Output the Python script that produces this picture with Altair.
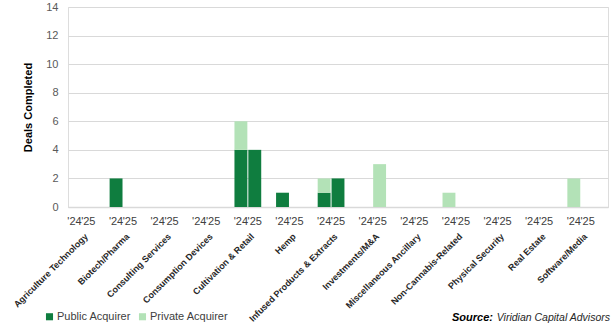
import altair as alt
import pandas as pd

categories = ["Agriculture Technology", "Biotech/Pharma", "Consulting Services",
              "Consumption Devices", "Cultivation & Retail", "Hemp",
              "Infused Products & Extracts", "Investments/M&A",
              "Miscellaneous Ancillary", "Non-Cannabis-Related",
              "Physical Security", "Real Estate", "Software/Media"]
years = ["'24", "'25"]
public_24 = [0, 2, 0, 0, 4, 1, 1, 0, 0, 0, 0, 0, 0]
private_24 = [0, 0, 0, 0, 2, 0, 1, 0, 0, 1, 0, 0, 2]
public_25 = [0, 0, 0, 0, 4, 0, 2, 0, 0, 0, 0, 0, 0]
private_25 = [0, 0, 0, 0, 0, 0, 0, 3, 0, 0, 0, 0, 0]
series = ["Public Acquirer", "Private Acquirer"]
colors = ["#0F7D3F", "#B3E2B7"]
FONT = "Liberation Sans"

rows = []
for i, c in enumerate(categories):
    for yr, pub, priv in [(years[0], public_24, private_24), (years[1], public_25, private_25)]:
        rows.append({"slot": f"{c}|{yr}", "type": series[0], "ord": 0, "value": pub[i]})
        rows.append({"slot": f"{c}|{yr}", "type": series[1], "ord": 1, "value": priv[i]})
df = pd.DataFrame(rows)

domain = []
for c in categories:
    domain += [f"{c}|{years[0]}", f"{c}|{years[1]}", f"{c}|gap"]

xscale = alt.Scale(domain=domain, paddingInner=0.07, paddingOuter=0)

bars = alt.Chart(df).mark_bar().encode(
    x=alt.X("slot:N", scale=xscale, sort=domain, title=None,
            axis=alt.Axis(labelExpr="indexof(datum.value,'|gap')>=0 ? '' : split(datum.value,'|')[1]",
                          labelAngle=0, ticks=False, domainColor="#D9D9D9", domainWidth=1.5,
                          labelFont=FONT, labelFontSize=11, labelColor="#404040",
                          labelPadding=8, labelOverlap=False)),
    y=alt.Y("value:Q", stack="zero", scale=alt.Scale(domain=[0, 14], nice=False),
            axis=alt.Axis(values=list(range(0, 15, 2)), title="Deals Completed",
                          titleFont=FONT, titleFontSize=11, titleFontWeight="bold", titleColor="#000000",
                          titlePadding=12, labelFont=FONT, labelFontSize=11, labelColor="#595959",
                          labelPadding=10, ticks=False, domain=False,
                          gridColor="#D9D9D9", gridWidth=1.2)),
    color=alt.Color("type:N", scale=alt.Scale(domain=series, range=colors),
                    legend=alt.Legend(title=None, orient="none", legendX=-24, legendY=304,
                                      direction="horizontal", symbolType="square", symbolSize=50,
                                      symbolStrokeWidth=0, labelFont=FONT, labelFontSize=11,
                                      labelColor="#404040", labelOffset=2, columnPadding=6)),
    order=alt.Order("ord:Q"),
)

lab_df = pd.DataFrame({"slot": [f"{c}|{years[1]}" for c in categories], "label": categories})
cat_labels = alt.Chart(lab_df).mark_text(
    angle=315, align="right", baseline="middle", font=FONT, fontSize=9,
    fontWeight="bold", color="#262626", xOffset=-2
).encode(
    x=alt.X("slot:N", scale=xscale, sort=domain),
    y=alt.value(228),
    text="label:N",
)

src_df = pd.DataFrame({"t": ["Source:"]})
src1 = alt.Chart(src_df).mark_text(
    align="left", baseline="middle", font=FONT, fontSize=11, fontWeight="bold",
    fontStyle="italic", color="#000000"
).encode(x=alt.value(384), y=alt.value(311), text="t:N")
src_df2 = pd.DataFrame({"t": ["Viridian Capital Advisors"]})
src2 = alt.Chart(src_df2).mark_text(
    align="right", baseline="middle", font=FONT, fontSize=10.5,
    fontStyle="italic", color="#262626"
).encode(x=alt.value(542), y=alt.value(311), text="t:N")

chart = alt.layer(bars, cat_labels, src1, src2).properties(
    width=540, height=200,
    autosize=alt.AutoSizeParams(type="none"),
    padding={"left": 68, "top": 7, "right": 8, "bottom": 123},
).configure_view(stroke=None).configure(background="white")

chart.save("out.html", embed_options={"renderer": "svg", "actions": False})
